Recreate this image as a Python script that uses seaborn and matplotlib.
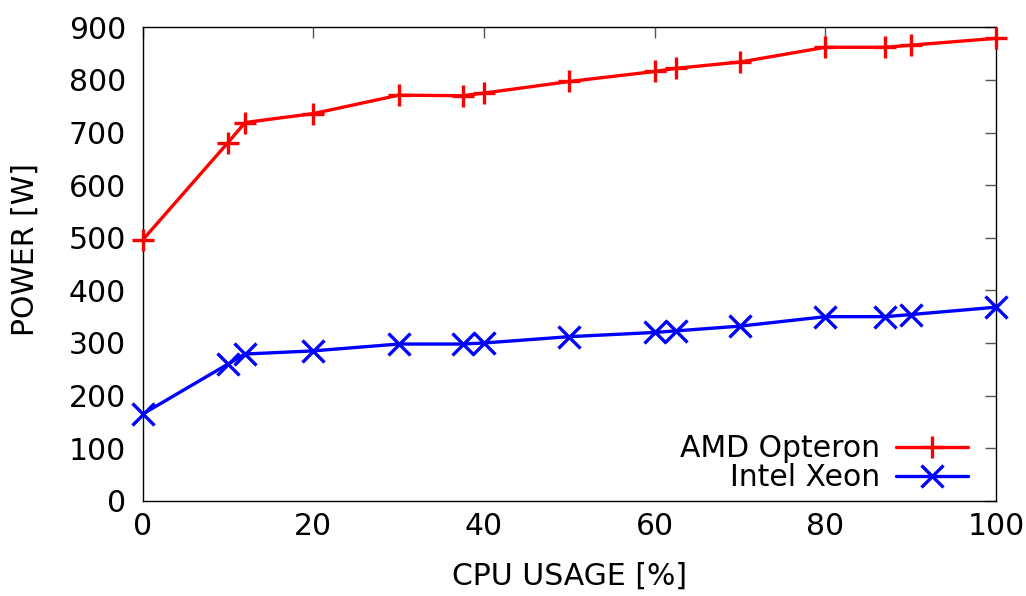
import matplotlib
matplotlib.use("Agg")
import matplotlib.pyplot as plt
import seaborn as sns
import pandas as pd

# CPU load levels (%) and measured power draw (W)
cpu_usage = [0, 10, 12, 20, 30, 37.5, 40, 50, 60, 62.5, 70, 80, 87, 90, 100]
amd_power = [496, 681, 719, 736, 771, 770, 775, 797, 816, 822, 834, 862, 862, 866, 879]
intel_power = [165, 260, 279, 285, 298, 298, 300, 312, 320, 323, 332, 350, 350, 354, 368]

series_names = ["AMD Opteron", "Intel Xeon"]
series_colors = ["#ff0000", "#0000ff"]
series_markers = ["+", "x"]
x_ticks = [0, 20, 40, 60, 80, 100]
y_ticks = [0, 100, 200, 300, 400, 500, 600, 700, 800, 900]

sns.set_style("white")
plt.rcParams["font.family"] = ["DejaVu Sans"]
plt.rcParams["text.color"] = "black"
plt.rcParams["axes.labelcolor"] = "black"

FS = 21.5

df = pd.concat([
    pd.DataFrame({"cpu": cpu_usage, "power": amd_power, "system": series_names[0]}),
    pd.DataFrame({"cpu": cpu_usage, "power": intel_power, "system": series_names[1]}),
])

fig = plt.figure(figsize=(10.26, 5.96), dpi=100)
ax = fig.add_axes([0.1391, 0.1597, 0.9708 - 0.1391, 0.9542 - 0.1597])

for name, color, marker in zip(series_names, series_colors, series_markers):
    sub = df[df["system"] == name]
    sns.lineplot(data=sub, x="cpu", y="power", ax=ax, color=color,
                 marker=marker, markersize=15.5, markeredgewidth=2.4,
                 markeredgecolor=color, linewidth=2.4, label=name,
                 clip_on=False, zorder=3)

ax.set_xlim(0, 100)
ax.set_ylim(0, 900)
ax.set_xticks(x_ticks)
ax.set_yticks(y_ticks)
ax.tick_params(axis="both", which="both", direction="in", length=8, width=1,
               color="#555555", labelcolor="black", labelsize=FS,
               top=True, right=True)
ax.tick_params(axis="y", pad=12)
ax.tick_params(axis="x", pad=8)
for s in ax.spines.values():
    s.set_visible(True)
    s.set_color("black")
    s.set_linewidth(1.0)

ax.set_xlabel("CPU USAGE [%]", fontsize=FS)
ax.set_ylabel("POWER [W]", fontsize=FS)
ax.xaxis.set_label_coords(0.5, -0.159)
ax.xaxis.label.set_va("center")
ax.yaxis.set_label_coords(-0.138, 0.53)
ax.yaxis.label.set_va("center")

leg = ax.legend(loc="center right", markerfirst=False, frameon=False,
                fontsize=FS, handlelength=2.4, handletextpad=0.53,
                labelspacing=0.0, borderpad=0, borderaxespad=0,
                bbox_to_anchor=(0.967, 0.0798))

fig.savefig("out.png", dpi=100)
